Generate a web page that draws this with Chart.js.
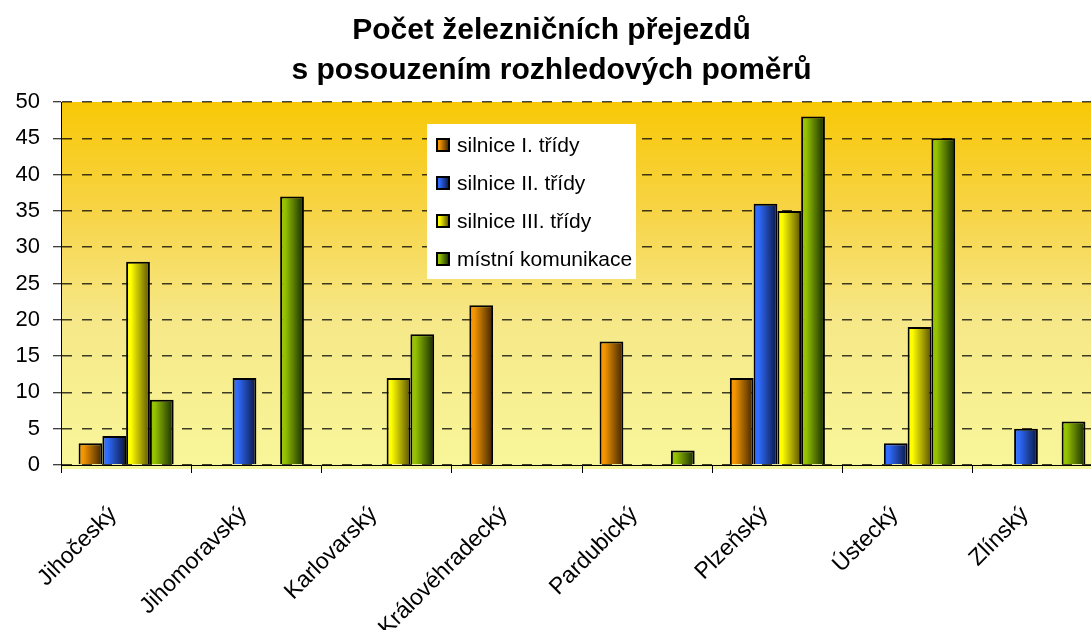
<!DOCTYPE html>
<html>
<head>
<meta charset="utf-8">
<script src="https://cdn.jsdelivr.net/npm/chart.js@4"></script>
<style>
  html, body { margin: 0; padding: 0; background: #fff; overflow: hidden; }
  #wrap { position: relative; width: 1124px; height: 630px; }
</style>
</head>
<body>
<div id="wrap"><canvas id="myChart"></canvas></div>
<script>
const regions = ['Jihočeský', 'Jihomoravský', 'Karlovarský', 'Královéhradecký', 'Pardubický', 'Plzeňský', 'Ústecký', 'Zlínský'];
// null = no bar drawn in the picture
const silniceI = [3, null, null, 22, 17, 12, null, null];
const silniceII = [4, 12, null, null, null, 36, 3, 5];
const silniceIII = [28, null, 12, null, null, 35, 19, null];
const mistni = [9, 37, 18, null, 2, 48, 45, 6];
const seriesNames = ['silnice I. třídy', 'silnice II. třídy', 'silnice III. třídy', 'místní komunikace'];
const yTicks = [0, 5, 10, 15, 20, 25, 30, 35, 40, 45, 50];

// light / dark end of each bar gradient
const shades = [
    ['#f59600', '#3a2200'],
    ['#2f6cff', '#0a1540'],
    ['#ffff00', '#5a5000'],
    ['#96c300', '#142800']
];

const FONT = "'Liberation Sans', Arial, sans-serif";

function barGradient(ctx, x0, x1, i) {
    let g = ctx.createLinearGradient(x0, 0, x1, 0);
    g.addColorStop(0, shades[i][0]);
    g.addColorStop(0.2, shades[i][0]);
    g.addColorStop(1, shades[i][1]);
    return g;
}

const plotBg = {
    id: 'plotBg',
    beforeDraw(chart) {
        const { ctx, chartArea: a } = chart;
        let g = ctx.createLinearGradient(0, a.top, 0, a.bottom);
        g.addColorStop(0, '#f8c806');
        g.addColorStop(0.3, '#f7d446');
        g.addColorStop(0.6, '#f6e888');
        g.addColorStop(1, '#f8f69a');
        ctx.save();
        ctx.fillStyle = g;
        ctx.fillRect(a.left, a.top, a.right - a.left, a.bottom - a.top + 4);
        ctx.restore();
    }
};

const shadeBars = {
    id: 'shadeBars',
    beforeDatasetsDraw(chart) {
        const ctx = chart.ctx;
        chart.data.datasets.forEach((ds, i) => {
            chart.getDatasetMeta(i).data.forEach(bar => {
                const p = bar.getProps(['x', 'width'], true);
                bar.options.backgroundColor = barGradient(ctx, p.x - p.width / 2, p.x + p.width / 2, i);
            });
        });
    }
};

const boxLegend = {
    id: 'boxLegend',
    afterDatasetsDraw(chart) {
        const ctx = chart.ctx;
        const a = chart.chartArea;
        const left = a.left + 366, top = a.top + 22;
        ctx.save();
        ctx.fillStyle = '#fff';
        ctx.fillRect(left, top, 209, 155);
        ctx.font = '21px ' + FONT;
        ctx.textBaseline = 'middle';
        seriesNames.forEach((name, i) => {
            const cy = top + 21 + i * 38;
            ctx.fillStyle = barGradient(ctx, left + 10, left + 22, i);
            ctx.fillRect(left + 10, cy - 6, 12, 12);
            ctx.lineWidth = 2;
            ctx.strokeStyle = '#000';
            ctx.strokeRect(left + 10, cy - 6, 12, 12);
            ctx.fillStyle = '#000';
            ctx.fillText(name, left + 30, cy + 1);
        });
        ctx.restore();
    }
};

const seriesData = [silniceI, silniceII, silniceIII, mistni];

let ct = document.getElementById('myChart').getContext('2d');
let myChart = new Chart(ct, {
    type: 'bar',
    data: {
        labels: regions,
        datasets: seriesData.map((vals, i) => ({
            label: seriesNames[i],
            data: vals,
            backgroundColor: c => shades[c.datasetIndex][0],
            borderColor: '#000',
            borderWidth: 2,
            borderSkipped: 'start',
            categoryPercentage: 0.73,
            barPercentage: 1.0
        }))
    },
    options: {
        responsive: true,
        maintainAspectRatio: false,
        animation: false,
        layout: { padding: { left: 0, right: 21, top: 0, bottom: 0 } },
        plugins: {
            legend: { display: false },
            tooltip: { enabled: false },
            title: {
                display: true,
                text: ['Počet železničních přejezdů', 's posouzením rozhledových poměrů'],
                color: '#000',
                font: { family: FONT, size: 30, weight: 'bold', lineHeight: 1.35 },
                padding: { top: 10, bottom: 11 }
            }
        },
        scales: {
            x: {
                afterFit: s => { s.height = 165; },
                grid: {
                    offset: true,
                    drawOnChartArea: false,
                    drawTicks: true,
                    tickLength: 8,
                    tickColor: '#000',
                    color: '#000'
                },
                border: { display: true, color: '#000', width: 1 },
                ticks: {
                    color: '#000',
                    font: { family: FONT, size: 23 },
                    minRotation: 45,
                    maxRotation: 45,
                    padding: 28,
                    labelOffset: -13,
                    autoSkip: false
                }
            },
            y: {
                min: 0,
                max: 50,
                afterFit: s => { s.width = 61; },
                afterBuildTicks: s => { s.ticks = yTicks.map(v => ({ value: v })); },
                grid: {
                    color: 'rgba(0,0,0,0.75)',
                    lineWidth: 1.5,
                    tickLength: 8,
                    tickColor: '#000',
                    tickWidth: 1,
                    tickBorderDash: []
                },
                border: { display: true, color: '#000', width: 1, dash: [10, 10] },
                ticks: {
                    color: '#000',
                    font: { family: FONT, size: 22 },
                    padding: 13
                }
            }
        }
    },
    plugins: [plotBg, shadeBars, boxLegend]
});
</script>
</body>
</html>
